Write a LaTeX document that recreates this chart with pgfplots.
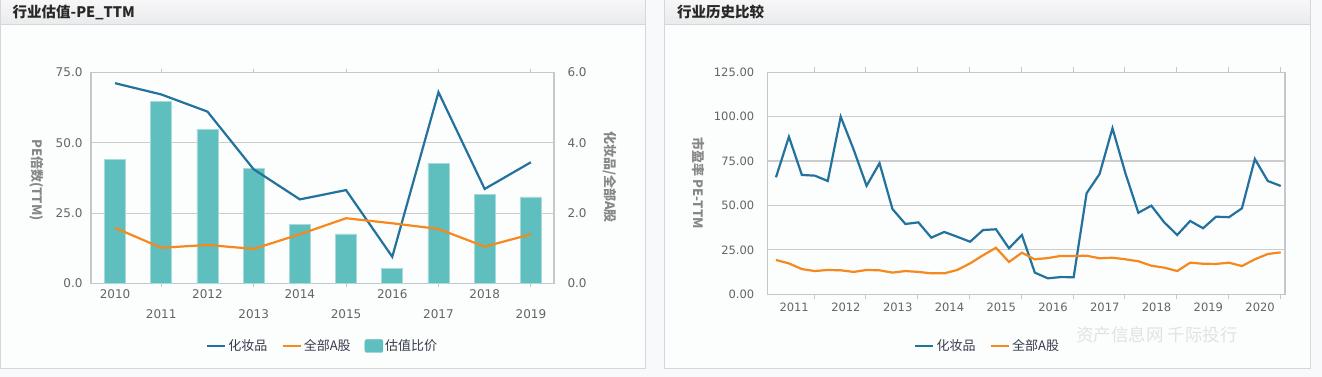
\documentclass[border=0pt]{standalone}
\usepackage{pgfplots}
\pgfplotsset{compat=1.18}
\usepackage{fontspec}
\setmainfont{DejaVu Sans}
\newfontfamily\cjk{Noto Sans CJK SC}
\definecolor{cblue}{RGB}{35,114,158}
\definecolor{corange}{RGB}{246,137,30}
\definecolor{cteal}{RGB}{95,190,190}
\definecolor{cgrid}{RGB}{204,204,206}
\definecolor{caxis}{RGB}{196,200,206}
\definecolor{ctick}{RGB}{100,100,100}
\definecolor{clab}{RGB}{135,135,135}
\definecolor{cbg}{RGB}{248,249,251}
\definecolor{cborder}{RGB}{214,215,219}
\definecolor{ctitle}{RGB}{40,40,40}
\definecolor{cleg}{RGB}{55,60,75}
\definecolor{cwm}{RGB}{226,226,228}

\pgfplotstableread{
x blue orange ratio
0 71.2 19.8 3.53
1 67.2 12.7 5.18
2 61.1 13.7 4.39
3 40.6 12.3 3.26
4 29.9 17.5 1.69
5 33.2 23.2 1.41
6 9.5 21.4 0.43
7 68.0 19.4 3.42
8 33.6 13.1 2.52
9 43.1 17.5 2.46
}\lefttable

\pgfplotstableread{
x blue orange
0 65.9 19.3
1 88.7 17.4
2 67.2 14.2
3 66.8 13.1
4 63.8 13.7
5 100.0 13.5
6 81.5 12.6
7 61.1 13.7
8 73.8 13.5
9 48.0 12.2
10 39.6 13.1
11 40.5 12.6
12 31.9 11.8
13 35.1 11.8
14 32.4 13.7
15 29.6 17.4
16 36.2 22.0
17 36.6 26.2
18 25.9 18.2
19 33.4 23.4
20 12.2 19.7
21 9.0 20.4
22 9.7 21.6
23 9.6 21.6
24 56.9 21.7
25 67.7 20.3
26 93.5 20.6
27 68.1 19.7
28 45.9 18.6
29 49.9 16.1
30 40.5 15.0
31 33.4 13.1
32 41.3 17.8
33 37.2 17.2
34 43.7 17.1
35 43.4 17.8
36 48.4 15.9
37 76.2 19.7
38 63.8 22.7
39 61.0 23.6
}\righttable

\begin{document}
\begin{tikzpicture}[x=1pt,y=1pt]
\path[use as bounding box, fill=cbg] (0pt,0pt) rectangle (1322pt,377pt);
% panels
\foreach \xa/\xb in {0/645.7, 664.3/1310}{
  \fill[white!60!cbg] (\xa pt,8pt) rectangle (\xb pt,352pt);
  \shade[top color={rgb,255:red,247;green,247;blue,248}, bottom color={rgb,255:red,233;green,234;blue,236}] (\xa pt,352pt) rectangle (\xb pt,377pt);
  \draw[cborder, line width=1pt] (\xa pt,352pt) -- (\xb pt,352pt);
  \draw[cborder, line width=1pt] (\xa pt,377pt) -- (\xa pt,8pt) -- (\xb pt,8pt) -- (\xb pt,377pt);
}
\node[anchor=west, font=\cjk\bfseries\fontsize{14.5}{16}\selectfont, text=ctitle, inner sep=0] at (12.5pt,365pt) {行业估值-PE\_TTM};
\node[anchor=west, font=\cjk\bfseries\fontsize{14.5}{16}\selectfont, text=ctitle, inner sep=0] at (677pt,365pt) {行业历史比较};

% ---------- left chart: bars on right axis ----------
\begin{axis}[
  at={(91pt,93.5pt)}, anchor=south west, scale only axis,
  width=463pt, height=211pt,
  xmin=-0.52, xmax=9.5, ymin=0, ymax=6,
  axis line style={draw=caxis, line width=1.2pt},
  ymajorgrids, grid style={draw=cgrid, line width=1.2pt},
  ytick={0,2,4,6}, yticklabels={0.0,2.0,4.0,6.0},
  yticklabel pos=right,
  ytick style={draw=none},
  tick align=outside, major tick length=4pt,
  xtick={1,3,5,7,9}, xticklabels={2011,2013,2015,2017,2019},
  xtick style={draw=caxis, line width=1pt},
  xticklabel style={yshift=-19pt},
  extra x ticks={0,2,4,6,8},
  extra x tick labels={2010,2012,2014,2016,2018},
  extra x tick style={major tick length=0pt, xticklabel style={yshift=16pt}},
  tick label style={font=\fontsize{12}{14}\selectfont, text=ctick},
  yticklabel style={xshift=6pt},
  clip=false,
]
\addplot[ybar, bar width=21pt, fill=cteal, draw=cteal!55!white, line width=0.8pt] table[x=x, y=ratio] {\lefttable};
\node[rotate=-90, font=\cjk\bfseries\fontsize{13}{15}\selectfont, text=clab] at (axis description cs:1.121,0.505) {化妆品/全部A股};
\end{axis}

% ---------- left chart: lines on left axis ----------
\begin{axis}[
  at={(91pt,93.5pt)}, anchor=south west, scale only axis,
  width=463pt, height=211pt,
  xmin=-0.52, xmax=9.5, ymin=0, ymax=75,
  axis x line=none, axis y line*=left,
  axis line style={draw=caxis, line width=1.2pt},
  ytick={0,25,50,75}, yticklabels={0.0,25.0,50.0,75.0},
  ytick style={draw=none},
  tick label style={font=\fontsize{12}{14}\selectfont, text=ctick},
  yticklabel style={xshift=-5pt},
  clip=false,
  legend style={at={(0.5,-0.296)}, anchor=center, draw=none, fill=none,
    legend columns=-1, font=\cjk\fontsize{13}{15}\selectfont, text=cleg,
    /tikz/every even column/.append style={column sep=12pt}},
  legend image code/.code={\draw[#1, line width=2.5pt] (0pt,0pt) -- (18pt,0pt);},
]
\addplot[cblue, line width=2.2pt] table[x=x, y=blue] {\lefttable};
\addlegendentry{化妆品}
\addplot[corange, line width=2.2pt] table[x=x, y=orange] {\lefttable};
\addlegendentry{全部A股}
\addlegendimage{legend image code/.code={\fill[cteal, rounded corners=2pt] (0pt,-6.5pt) rectangle (18pt,6.5pt);}}
\addlegendentry{估值比价}
\node[rotate=-90, font=\cjk\bfseries\fontsize{13}{15}\selectfont, text=clab] at (axis description cs:-0.117,0.49) {PE倍数(TTM)};
\end{axis}

% ---------- right chart ----------
\begin{axis}[
  at={(767.7pt,82.7pt)}, anchor=south west, scale only axis,
  width=517.3pt, height=222pt,
  xmin=-0.64, xmax=39.33, ymin=0, ymax=125,
  axis line style={draw=caxis, line width=1.2pt},
  ymajorgrids, grid style={draw=cgrid, line width=1.2pt},
  ytick={0,25,50,75,100,125}, yticklabels={0.00,25.00,50.00,75.00,100.00,125.00},
  ytick style={draw=none},
  tick align=outside, major tick length=5pt,
  xtick={2.95,6.95,10.95,14.95,18.95,22.95,26.95,30.95,34.95,38.95},
  xticklabels={2011,2012,2013,2014,2015,2016,2017,2018,2019,2020},
  xtick style={draw=caxis, line width=1pt},
  xticklabel style={xshift=-20pt},
  tick label style={font=\fontsize{11.5}{14}\selectfont, text=ctick},
  yticklabel style={xshift=-5pt},
  clip=false,
  legend style={at={(0.425,-0.233)}, anchor=center, draw=none, fill=none,
    legend columns=-1, font=\cjk\fontsize{13}{15}\selectfont, text=cleg,
    /tikz/every even column/.append style={column sep=12pt}},
  legend image code/.code={\draw[#1, line width=2.5pt] (0pt,0pt) -- (18pt,0pt);},
]
\addplot[cblue, line width=2.2pt] table[x=x, y=blue] {\righttable};
\addlegendentry{化妆品}
\addplot[corange, line width=2.2pt] table[x=x, y=orange] {\righttable};
\addlegendentry{全部A股}
\node[rotate=-90, font=\cjk\bfseries\fontsize{13}{15}\selectfont, text=clab] at (axis description cs:-0.133,0.50) {市盈率 PE-TTM};
\end{axis}

\node[font=\cjk\fontsize{17.5}{19}\selectfont, text=cwm, inner sep=0] at (1157pt,42pt) {资产信息网 千际投行};
\end{tikzpicture}
\end{document}
